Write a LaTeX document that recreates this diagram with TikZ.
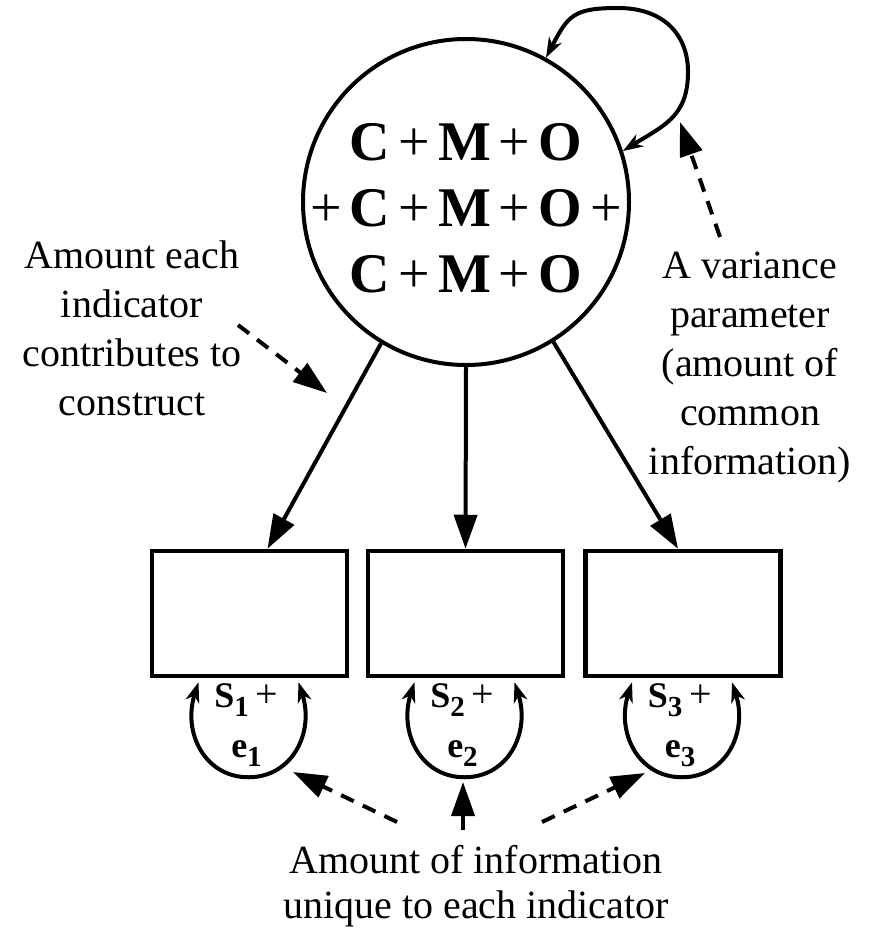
\documentclass[tikz,border=0pt]{standalone}
\usepackage{fontspec}
\setmainfont{Liberation Serif}
\usetikzlibrary{arrows.meta}
\newcommand{\cmplus}{\hspace{8pt}+\hspace{8pt}}
\newcommand{\subx}[1]{\raisebox{-9pt}{\fontsize{29}{29}\selectfont\bfseries #1}}
\begin{document}
\begin{tikzpicture}[x=1pt,y=1pt,
  thick4/.style={line width=4pt},
  bigarrow/.style={thick4,-{Triangle[length=34pt,width=23pt]}},
  dasharrow/.style={thick4,dash pattern=on 14pt off 10pt,-{Triangle[length=34pt,width=23pt]}},
  smallboth/.style={thick4,arrows={Stealth[length=20pt,width=14pt,inset=6pt]-Stealth[length=20pt,width=14pt,inset=6pt]}},
  indbox/.style={draw,line width=4.5pt,minimum width=195pt,minimum height=125pt,inner sep=0},
  lbl/.style={font=\fontsize{40}{49}\selectfont,align=center,inner sep=0},
  errlbl/.style={font=\fontsize{36}{36}\selectfont,inner sep=0,anchor=base}
]
\useasboundingbox (0,0) rectangle (872,-936);

% latent construct
\node[draw,circle,thick4,minimum size=326pt,inner sep=0] (construct) at (466,-202) {};
\node[font=\fontsize{56}{66}\selectfont,align=center,inner sep=0,anchor=north] (cmo) at (466,-123.5)
  {\textbf{C}\cmplus\textbf{M}\cmplus\textbf{O}\\
   +\hspace{8pt}\textbf{C}\cmplus\textbf{M}\cmplus\textbf{O}\hspace{8pt}+\\
   \textbf{C}\cmplus\textbf{M}\cmplus\textbf{O}};

% indicator boxes
\node[indbox] (box1) at (249.5,-613.5) {};
\node[indbox] (box2) at (465.5,-613.5) {};
\node[indbox] (box3) at (683,-613.5) {};

% loadings
\draw[bigarrow] (construct.239) -- ([xshift=18pt]box1.north);
\draw[bigarrow] (construct.south) -- (box2.north);
\draw[bigarrow] (construct.302) -- ([xshift=-5pt]box3.north);

% variance of construct
\draw[smallboth] (construct.61) .. controls +(22,42) and +(-45,0) .. (618,-8)
  .. controls +(45,0) and +(0,38) .. (688,-72)
  .. controls +(0,-45) and +(40,25) .. (construct.18);

% error variances
\foreach \b/\n in {box1/1,box2/2,box3/3}{
  \draw[smallboth] ([xshift=-51pt,yshift=-4pt]\b.south)
    .. controls +(-16,-50) and +(-44,0) .. ([xshift=-1pt,yshift=-99pt]\b.south)
    .. controls +(44,0) and +(16,-50) .. ([xshift=49pt,yshift=-4pt]\b.south);
  \node[errlbl] (s\n) at ([xshift=-3pt,yshift=-29pt]\b.south)
    {\textbf{S}\subx{\n}\hspace{7pt}{\fontsize{40}{40}\selectfont+}};
  \node[errlbl] (e\n) at ([xshift=-3pt,yshift=-79pt]\b.south)
    {\textbf{e}\subx{\n}};
}

% labels
\node[lbl,anchor=north] (leftlbl) at (132,-240.7)
  {Amount each\\indicator\\contributes to\\construct};
\node[lbl,anchor=north] (rightlbl) at (750,-251.7)
  {A variance\\parameter\\(amount of\\common\\information)};
\node[lbl,anchor=north,font=\fontsize{40}{45}\selectfont] (botlbl) at (476,-844.7)
  {Amount of information\\unique to each indicator};

% dashed pointers
\coordinate (la0) at (238,-325);  \coordinate (la1) at (327,-393);
\coordinate (ra0) at (720,-237);  \coordinate (ra1) at (680,-122);
\coordinate (b10) at (397,-822);  \coordinate (b11) at (293,-772);
\coordinate (b20) at (463,-830);  \coordinate (b21) at (463,-782);
\coordinate (b30) at (542,-822);  \coordinate (b31) at (645,-773);
\draw[dasharrow] (la0) -- (la1);
\draw[dasharrow] (ra0) -- (ra1);
\draw[dasharrow] (b10) -- (b11);
\draw[dasharrow] (b20) -- (b21);
\draw[dasharrow] (b30) -- (b31);
\end{tikzpicture}
\end{document}
